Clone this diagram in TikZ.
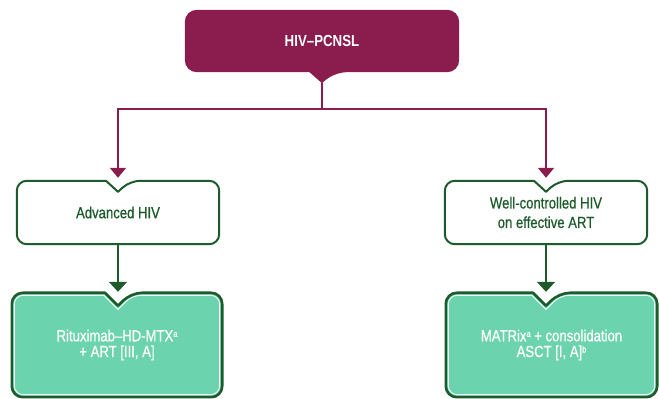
\documentclass[tikz,border=0pt]{standalone}
\usepackage{fontspec}
\setmainfont{Liberation Sans}[FakeStretch=0.83]
\newfontfamily\medfont{Liberation Sans}[FakeStretch=0.82,FakeBold=0.7]
\usetikzlibrary{arrows.meta,calc,backgrounds}
\definecolor{maroon}{RGB}{138,28,78}
\definecolor{dgreen}{RGB}{30,91,44}
\definecolor{teal}{RGB}{107,211,174}
\tikzset{
  topbox/.style={minimum width=274pt,minimum height=62pt,inner sep=0pt,text=white,font=\fontsize{16}{20}\selectfont\bfseries},
  midbox/.style={minimum width=202pt,minimum height=63pt,inner sep=0pt,text=dgreen,align=center,font=\medfont\fontsize{16}{19.5}\selectfont},
  botbox/.style={minimum height=104pt,inner sep=0pt,text=white,align=center,font=\medfont\fontsize{16}{20}\selectfont},
  gline/.style={draw=dgreen,line width=2pt,line join=round},
  gouter/.style={draw=dgreen,line width=2.6pt,line join=round,fill=teal},
  ginner/.style={draw=white,line width=0.9pt,line join=round},
  mline/.style={draw=maroon,line width=2pt},
  marr/.style={mline,-{Triangle[width=16pt,length=10pt]}},
  garr/.style={draw=dgreen,line width=2pt,-{Triangle[width=18pt,length=10pt]}}
}
\newcommand\supa[1]{\raisebox{4.5pt}{\fontsize{9}{9}\selectfont #1}}
\begin{document}
\begin{tikzpicture}[x=1pt,y=1pt]
\useasboundingbox (0,0) rectangle (659,399);
\node[topbox] (top) at (322,358) {HIV–PCNSL};
\node[midbox] (lm) at (118,186.5) {\raisebox{-3pt}{Advanced HIV}};
\node[midbox] (rm) at (546,186.5) {Well-controlled HIV\\on effective ART};
\node[botbox,minimum width=210pt] (lb) at (117,54) {\raisebox{-5pt}{\shortstack[c]{Rituximab–HD-MTX\supa{a}\\[1pt]+ ART [III, A]}}};
\node[botbox,minimum width=211pt] (rb) at (551.5,54) {\raisebox{-5pt}{\shortstack[c]{MATRix\supa{a} + consolidation\\[1pt]ASCT [I, A]\supa{b}}}};
\coordinate (tip) at ([yshift=-11pt]top.south);
\coordinate (j) at (322,290);
\coordinate (ln) at (lm.south |- lb.north);
\coordinate (rn) at (rm.south |- rb.north);
\begin{scope}[on background layer]
  % top box with pointer
  \fill[maroon,rounded corners=12pt] ([xshift=-12.5pt]top.south) -- (top.south west) -- (top.north west) -- (top.north east) -- (top.south east) -- ([xshift=12.5pt]top.south) [sharp corners] -- (tip) -- cycle;
  % middle boxes
  \path[gline,fill=white,rounded corners=10pt] ([xshift=-12pt]lm.north) -- (lm.north west) -- (lm.south west) -- (lm.south east) -- (lm.north east) -- ([xshift=12pt]lm.north) [sharp corners] -- ([yshift=-11pt]lm.north) -- cycle;
  \path[gline,fill=white,rounded corners=10pt] ([xshift=-12pt]rm.north) -- (rm.north west) -- (rm.south west) -- (rm.south east) -- (rm.north east) -- ([xshift=12pt]rm.north) [sharp corners] -- ([yshift=-11pt]rm.north) -- cycle;
  % bottom boxes
  \path[gouter,rounded corners=11pt] ([xshift=-13pt]ln) -- (lb.north west) -- (lb.south west) -- (lb.south east) -- (lb.north east) -- ([xshift=13pt]ln) [sharp corners] -- ([yshift=-13pt]ln) -- cycle;
  \path[ginner,rounded corners=8.5pt] ($(ln)+(-14.1,-2.6)$) -- ($(lb.north west)+(2.6,-2.6)$) -- ($(lb.south west)+(2.6,2.6)$) -- ($(lb.south east)+(-2.6,2.6)$) -- ($(lb.north east)+(-2.6,-2.6)$) -- ($(ln)+(14.1,-2.6)$) [sharp corners] -- ($(ln)+(0,-16.7)$) -- cycle;
  \path[gouter,rounded corners=11pt] ([xshift=-13pt]rn) -- (rb.north west) -- (rb.south west) -- (rb.south east) -- (rb.north east) -- ([xshift=13pt]rn) [sharp corners] -- ([yshift=-13pt]rn) -- cycle;
  \path[ginner,rounded corners=8.5pt] ($(rn)+(-14.1,-2.6)$) -- ($(rb.north west)+(2.6,-2.6)$) -- ($(rb.south west)+(2.6,2.6)$) -- ($(rb.south east)+(-2.6,2.6)$) -- ($(rb.north east)+(-2.6,-2.6)$) -- ($(rn)+(14.1,-2.6)$) [sharp corners] -- ($(rn)+(0,-16.7)$) -- cycle;
\end{scope}
% connectors
\draw[mline] (tip) -- (j);
\draw[marr] (j) -| ([yshift=3pt]lm.north);
\draw[marr] (j) -| ([yshift=3pt]rm.north);
\draw[garr] (lm.south) -- ([yshift=1pt]ln);
\draw[garr] (rm.south) -- ([yshift=1pt]rn);
\end{tikzpicture}
\end{document}
